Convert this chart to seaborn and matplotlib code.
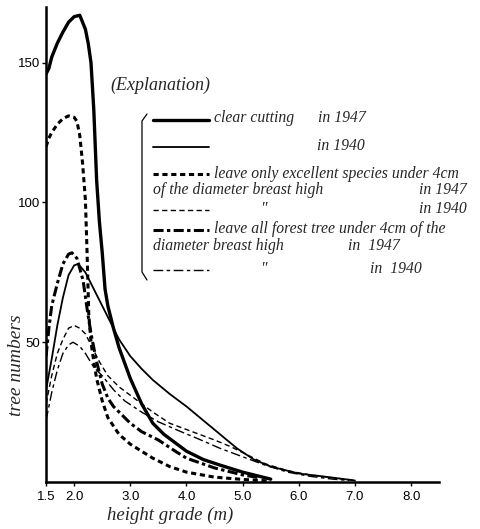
import matplotlib
matplotlib.use("Agg")
import matplotlib.pyplot as plt
import seaborn as sns
import pandas as pd
from matplotlib.lines import Line2D

# curves (height grade in m, tree numbers)
clear47_x = [1.5, 1.55, 1.6, 1.7, 1.8, 1.9, 2.0, 2.1, 2.2, 2.25, 2.3, 2.35, 2.4, 2.45, 2.5, 2.55,
             2.6, 2.7, 2.8, 3.0, 3.2, 3.4, 3.6, 3.8, 4.0, 4.3, 4.6, 5.0, 5.3, 5.5]
clear47_y = [146, 148, 152, 157, 161, 164.5, 166.5, 167, 162, 157, 150, 133, 108, 93, 82, 69,
             63, 55, 48, 37, 28, 21, 17, 14, 11, 8, 6, 3.5, 2, 1]

clear40_x = [1.5, 1.6, 1.7, 1.8, 1.9, 2.0, 2.07, 2.2, 2.3, 2.45, 2.6, 2.8, 3.0, 3.2, 3.4, 3.7,
             4.0, 4.3, 4.6, 4.9, 5.2, 5.5, 6.0, 6.5, 7.0]
clear40_y = [33, 44, 56, 66, 74, 77.5, 78, 75, 71, 65, 59, 51, 45, 40.5, 36.5, 31.5,
             27, 22, 17, 12, 8, 5.5, 3, 1.8, 0.5]

excel47_x = [1.5, 1.55, 1.6, 1.7, 1.8, 1.9, 2.0, 2.05, 2.1, 2.15, 2.2, 2.23, 2.26, 2.3, 2.35,
             2.4, 2.5, 2.6, 2.8, 3.0, 3.2, 3.4, 3.7, 4.0, 4.5, 5.0, 5.5]
excel47_y = [120, 123, 125, 128, 130, 131, 130.5, 129, 124, 114, 101, 82, 60, 50, 43,
             37, 29, 23, 17, 13.5, 11, 8.5, 5.5, 3.5, 1.7, 0.9, 0.3]

allfor47_x = [1.5, 1.55, 1.6, 1.7, 1.8, 1.9, 1.96, 2.05, 2.16, 2.23, 2.3, 2.4, 2.5, 2.6, 2.7,
              2.8, 3.0, 3.2, 3.5, 3.8, 4.0, 4.5, 5.0, 5.3]
allfor47_y = [45, 55, 63, 71, 78, 81.5, 82, 80, 72, 62, 53, 43, 35, 30, 27,
              25, 21, 18, 15, 11, 8.5, 5, 2.5, 1.5]

excel40_x = [1.5, 1.6, 1.7, 1.8, 1.9, 2.0, 2.1, 2.2, 2.3, 2.45, 2.6, 2.8, 3.0, 3.4, 3.7, 4.1,
             4.5, 4.8, 5.1, 5.4, 5.8, 6.2, 6.6, 7.0]
excel40_y = [28, 38, 46, 51, 55, 56, 55, 53, 49, 43, 38, 34, 31, 25, 21, 18,
             15, 12.5, 9.5, 6.5, 4, 2.5, 1.5, 0.6]

allfor40_x = [1.5, 1.6, 1.7, 1.8, 1.9, 1.98, 2.1, 2.2, 2.35, 2.5, 2.7, 2.9, 3.2, 3.5, 3.9, 4.2,
              4.6, 5.0, 5.4, 5.8, 6.2, 6.6, 6.9]
allfor40_y = [22, 32, 40, 46, 49, 50, 48.5, 46, 41, 38, 33, 29, 25, 21.5, 18, 15.5,
              12, 9, 6, 3.5, 2, 1, 0.5]

x_ticks = [1.5, 2.0, 3.0, 4.0, 5.0, 6.0, 7.0, 8.0]
x_ticklabels = ["1.5", "2.0", "3.0", "4.0", "5.0", "6.0", "7.0", "8.0"]
y_ticks = [50, 100, 150]

# line styles: (linewidth, linestyle)
styles = {
    "clear47": (2.4, "-"),
    "clear40": (1.3, "-"),
    "excel47": (2.2, (0, (1.7, 1.2))),
    "excel40": (1.0, (0, (3.8, 2.4))),
    "allfor47": (2.2, (0, (3.3, 1.1, 1.1, 1.1))),
    "allfor40": (1.0, (0, (7, 2.5, 2.5, 2.5))),
}

sns.set_style("ticks")
hand = ["Liberation Serif", "DejaVu Serif"]

fig = plt.figure(figsize=(4.8, 5.29), dpi=100)
ax = fig.add_axes([0.096, 0.089, 0.819, 0.898])

series = [
    ("clear47", clear47_x, clear47_y),
    ("clear40", clear40_x, clear40_y),
    ("excel47", excel47_x, excel47_y),
    ("excel40", excel40_x, excel40_y),
    ("allfor47", allfor47_x, allfor47_y),
    ("allfor40", allfor40_x, allfor40_y),
]
for name, xs, ys in series:
    df = pd.DataFrame({"x": xs, "y": ys})
    lw, ls = styles[name]
    sns.lineplot(data=df, x="x", y="y", ax=ax, color="black", lw=lw,
                 linestyle=ls, errorbar=None, sort=False)

ax.set_xlim(1.5, 8.5)
ax.set_ylim(0, 170)
ax.set_xticks(x_ticks)
ax.set_xticklabels(x_ticklabels)
ax.set_yticks(y_ticks)
ax.tick_params(axis="both", labelsize=9.5, length=3, width=1, colors="black")
ax.tick_params(axis="y", pad=1)
for lab in ax.get_xticklabels() + ax.get_yticklabels():
    lab.set_family(["Liberation Sans", "DejaVu Sans"])
sns.despine(ax=ax)
for s in ["left", "bottom"]:
    ax.spines[s].set_linewidth(1.8)
    ax.spines[s].set_color("black")
ax.set_xlabel("")
ax.set_ylabel("")

# axis titles in a hand-lettered look
fig.text(0.355, 0.026, "height grade (m)", family=hand, style="italic",
         fontsize=13.5, ha="center", va="center")
fig.text(0.034, 0.31, "tree numbers", family=hand, style="italic",
         fontsize=14, rotation=90, ha="center", va="center")

# the explanation block
def fx(px):
    return px / 480


def fy(py):
    return 1 - py / 529


fig.text(fx(110), fy(85), "(Explanation)", family=hand, style="italic",
         fontsize=13, ha="left", va="center")

# bracket
fig.add_artist(Line2D([fx(147), fx(142), fx(142), fx(147)],
                      [fy(114), fy(121), fy(272), fy(280)],
                      transform=fig.transFigure, color="black", lw=0.9))

samples = [("clear47", 120), ("clear40", 147), ("excel47", 174),
           ("excel40", 210), ("allfor47", 230), ("allfor40", 270)]
for name, py in samples:
    lw, ls = styles[name]
    fig.add_artist(Line2D([fx(153), fx(209)], [fy(py), fy(py)],
                          transform=fig.transFigure, color="black", lw=lw, linestyle=ls))

txt = dict(family=hand, style="italic", fontsize=11.3, va="center")
fig.text(fx(214), fy(118), "clear cutting", ha="left", **txt)
fig.text(fx(318), fy(118), "in 1947", ha="left", **txt)
fig.text(fx(317), fy(146), "in 1940", ha="left", **txt)
fig.text(fx(214), fy(174), "leave only excellent species under 4cm", ha="left", **txt)
fig.text(fx(153), fy(190), "of the diameter breast high", ha="left", **txt)
fig.text(fx(467), fy(190), "in 1947", ha="right", **txt)
fig.text(fx(263), fy(209), "\u2033", ha="center", **txt)
fig.text(fx(467), fy(209), "in 1940", ha="right", **txt)
fig.text(fx(214), fy(229), "leave all forest tree under 4cm of the", ha="left", **txt)
fig.text(fx(153), fy(246), "diameter breast high", ha="left", **txt)
fig.text(fx(348), fy(246), "in  1947", ha="left", **txt)
fig.text(fx(263), fy(269), "\u2033", ha="center", **txt)
fig.text(fx(370), fy(269), "in  1940", ha="left", **txt)

fig.savefig("out.png", dpi=100, facecolor="white")
